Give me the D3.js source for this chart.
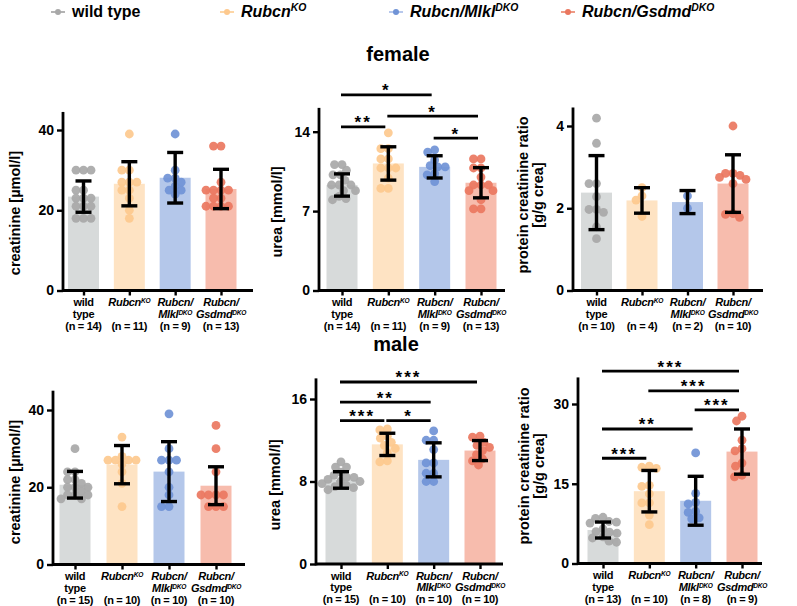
<!DOCTYPE html>
<html><head><meta charset="utf-8">
<script src="https://cdn.jsdelivr.net/npm/d3@7"></script>
<style>
html,body{margin:0;padding:0;background:#fff;}
svg{display:block;font-family:"Liberation Sans",Arial,sans-serif;}
</style></head>
<body><svg id="chart" width="797" height="606"></svg>
<script>
// ---------- DATA ----------
const groups = ["wild type", "RubcnKO", "Rubcn/MlklDKO", "Rubcn/GsdmdDKO"];
const barColors = ["#d7dada", "#fee3c3", "#b4c7ea", "#f7bcad"];
const dotColors = ["#a8a8a8", "#fdc98e", "#7093d6", "#ea775f"];
const legendLine = ["#b3b3b3", "#fdd6a6", "#b7c8ec", "#ee9a85"];

// female creatinine [µmol/l]
const fCreaMean = [23.4, 26.6, 28.1, 25.3];
const fCreaSD = [3.9, 5.5, 6.3, 4.9];
const fCreaN = [14, 11, 9, 13];
const fCreaDots = [
  [30, 30, 30, 25, 25, 23, 23, 23, 21, 21, 21, 18, 18, 18],
  [39, 30, 30, 27, 27, 27, 25, 25, 23, 20, 18],
  [39, 30, 28, 28, 27, 26, 25, 25, 24],
  [36, 36, 27, 25, 25, 25, 25, 23, 23, 21, 21, 21, 21]
];
// female urea [mmol/l]
const fUreaMean = [9.3, 11.2, 10.9, 9.5];
const fUreaSD = [0.98, 1.47, 0.98, 1.33];
const fUreaN = [14, 11, 9, 13];
const fUreaDots = [
  [11.1, 11.1, 10.6, 10.2, 10.2, 9.7, 9.3, 9.3, 9.3, 8.8, 8.8, 8.3, 8.1, 8.0],
  [13.9, 12.5, 12.5, 11.6, 11.6, 10.8, 10.8, 10.8, 9.9, 9.0, 9.0],
  [12.4, 12.2, 11.5, 11.0, 10.9, 10.9, 10.3, 10.2, 9.6],
  [11.6, 11.6, 10.8, 10.8, 10.0, 9.3, 9.3, 9.3, 8.8, 8.8, 8.0, 7.2, 7.2]
];
const fUreaSig = [[0, 2, 17.24, "*"], [1, 3, 15.38, "*"], [0, 1, 14.43, "**"], [2, 3, 13.44, "*"]];
// female protein creatinine ratio [g/g crea]
const fProtMean = [2.38, 2.19, 2.15, 2.6];
const fProtSD = [0.9, 0.31, 0.28, 0.7];
const fProtN = [10, 4, 2, 10];
const fProtDots = [
  [4.19, 3.58, 2.6, 2.6, 2.28, 1.97, 1.97, 1.9, 1.55, 1.26],
  [2.5, 2.3, 2.2, 1.8],
  [2.3, 2.0],
  [4.0, 2.85, 2.85, 2.8, 2.75, 2.7, 2.6, 1.87, 1.85, 1.78]
];
// male creatinine [µmol/l]
const mCreaMean = [20.65, 25.85, 24.05, 20.4];
const mCreaSD = [3.45, 4.95, 7.75, 4.9];
const mCreaN = [15, 10, 10, 10];
const mCreaDots = [
  [30, 24, 24, 22, 22, 21, 20, 20, 20, 19, 18, 18, 18, 17, 17],
  [33, 28, 27, 27, 27, 27, 26, 24, 21, 15],
  [39, 30, 27, 27, 27, 24, 20, 18, 15, 15],
  [36, 30, 24, 18, 18, 18, 18, 15, 15, 15]
];
// male urea [mmol/l]
const mUreaMean = [8.15, 11.6, 10.1, 11.0];
const mUreaSD = [0.8, 1.08, 1.65, 0.97];
const mUreaN = [15, 10, 10, 10];
const mUreaDots = [
  [9.9, 9.4, 9.4, 8.9, 8.6, 8.4, 8.4, 8.2, 8.0, 8.0, 7.8, 7.6, 7.5, 7.4, 7.2],
  [13.1, 13.0, 12.4, 12.2, 11.8, 11.5, 11.2, 10.8, 10.0, 9.9],
  [12.9, 12.0, 12.0, 11.1, 9.8, 9.8, 8.8, 8.8, 8.0, 8.0],
  [12.4, 12.3, 11.8, 11.5, 11.3, 11.0, 10.6, 10.2, 10.0, 9.6]
];
const mUreaSig = [[0, 3, 17.65, "***"], [0, 2, 15.7, "**"], [0, 1, 13.9, "***"], [1, 2, 13.9, "*"]];
// male protein creatinine ratio [g/g crea]
const mProtMean = [6.3, 13.6, 11.8, 21.05];
const mProtSD = [1.5, 3.9, 4.6, 4.25];
const mProtN = [13, 10, 8, 9];
const mProtDots = [
  [8.7, 8.5, 7.9, 7.8, 7.6, 6.5, 6.0, 5.9, 5.7, 5.0, 4.8, 4.2, 4.0],
  [18.3, 18.1, 17.9, 14.7, 14.5, 13.1, 11.4, 11.4, 9.1, 7.3],
  [20.8, 13.2, 11.5, 11.2, 9.8, 9.6, 8.6, 8.4],
  [27.7, 26.8, 23.2, 21.6, 21.2, 18.9, 18.3, 16.6, 16.3]
];
const mProtSig = [[0, 3, 36.2, "***"], [1, 3, 32.45, "***"], [2, 3, 28.9, "***"], [0, 2, 25.3, "**"], [0, 1, 19.8, "***"]];

const yLabels = {
  crea: ["creatinine [µmol/l]"],
  urea: ["urea [mmol/l]"],
  prot: ["protein creatinine ratio", "[g/g crea]"]
};

// ---------- LAYOUT ----------
const panels = [
  {mean: fCreaMean, sd: fCreaSD, n: fCreaN, dots: fCreaDots, sig: [], ticks: [0, 20, 40], dmax: 44.5,
   ax: 63, y0: 290.5, yRef: 130, vRef: 40, c0: 83.5, c3: 221, xEnd: 253, lab: yLabels.crea, labX: 15, labY: 213},
  {mean: fUreaMean, sd: fUreaSD, n: fUreaN, dots: fUreaDots, sig: fUreaSig, ticks: [0, 7, 14], dmax: 16.1,
   ax: 319, y0: 290.5, yRef: 131.7, vRef: 14, c0: 342, c3: 481, xEnd: 505, lab: yLabels.urea, labX: 277, labY: 212},
  {mean: fProtMean, sd: fProtSD, n: fProtN, dots: fProtDots, sig: [], ticks: [0, 2, 4], dmax: 4.45,
   ax: 573, y0: 290.5, yRef: 126, vRef: 4, c0: 596.5, c3: 733, xEnd: 763, lab: yLabels.prot, labX: 530, labY: 195},
  {mean: mCreaMean, sd: mCreaSD, n: mCreaN, dots: mCreaDots, sig: [], ticks: [0, 20, 40], dmax: 45,
   ax: 53, y0: 564.5, yRef: 410, vRef: 40, c0: 75, c3: 216, xEnd: 245, lab: yLabels.crea, labX: 15, labY: 482},
  {mean: mUreaMean, sd: mUreaSD, n: mUreaN, dots: mUreaDots, sig: mUreaSig, ticks: [0, 8, 16], dmax: 18,
   ax: 316, y0: 564, yRef: 399, vRef: 16, c0: 341, c3: 480, xEnd: 503, lab: yLabels.urea, labX: 275, labY: 485},
  {mean: mProtMean, sd: mProtSD, n: mProtN, dots: mProtDots, sig: mProtSig, ticks: [0, 15, 30], dmax: 35,
   ax: 578, y0: 563.5, yRef: 404, vRef: 30, c0: 603, c3: 742, xEnd: 762, lab: yLabels.prot, labX: 531, labY: 466}
];

const svg = d3.select("#chart");
svg.append("rect").attr("width", 797).attr("height", 606).attr("fill", "#fff");

// rich-text helper: parts = [{t, it, sup}] (superscript always last)
function richLine(sel, parts, fs, supScale, supRaise) {
  parts.forEach(p => {
    sel.append("tspan").text(p.t).attr("font-style", p.it ? "italic" : "normal");
    if (p.sup) {
      sel.append("tspan").text(p.sup).attr("font-style", "italic")
        .attr("font-size", fs * supScale).attr("dy", -fs * supRaise);
    }
  });
}
function groupLines(i, n) {
  const nl = [{t: "(n = " + n + ")"}];
  if (i === 0) return [[{t: "wild"}], [{t: "type"}], nl];
  if (i === 1) return [[{t: "Rubcn", it: true, sup: "KO"}], [], nl];
  if (i === 2) return [[{t: "Rubcn/", it: true}], [{t: "Mlkl", it: true, sup: "DKO"}], nl];
  return [[{t: "Rubcn/", it: true}], [{t: "Gsdmd", it: true, sup: "DKO"}], nl];
}

function swarm(vals, y, r) {
  const pts = vals.map(v => ({v, y: y(v)})).sort((a, b) => a.y - b.y);
  const placed = [];
  const minD2 = (2 * r * 0.82) ** 2;
  for (const p of pts) {
    let off = 0;
    for (let k = 0; k < 400; k++) {
      const o = (k % 2 === 0 ? 1 : -1) * Math.ceil(k / 2) * 0.5;
      if (placed.every(q => (q.dx - o) ** 2 + (q.y - p.y) ** 2 >= minD2)) { off = o; break; }
    }
    p.dx = off; placed.push(p);
  }
  return pts;
}

panels.forEach(P => {
  const g = svg.append("g");
  const ppu = (P.y0 - P.yRef) / P.vRef;
  const y = d3.scaleLinear().domain([0, P.dmax]).range([P.y0, P.y0 - P.dmax * ppu]);
  const x = d3.scalePoint().domain(groups).range([P.c0, P.c3]);
  const bw = 31;

  // bars
  g.selectAll("rect.bar").data(P.mean).join("rect")
    .attr("x", (d, i) => x(groups[i]) - bw / 2).attr("width", bw)
    .attr("y", d => y(d)).attr("height", d => y(0) - y(d))
    .attr("fill", (d, i) => barColors[i]);

  // dots
  P.dots.forEach((vals, i) => {
    const pts = swarm(vals, y, 4.4);
    g.selectAll(null).data(pts).join("circle")
      .attr("cx", d => x(groups[i]) + d.dx).attr("cy", d => d.y).attr("r", 4.4)
      .attr("fill", dotColors[i]).attr("fill-opacity", 0.92);
  });

  // error bars
  P.mean.forEach((m, i) => {
    const cx = x(groups[i]), lo = y(m - P.sd[i]), hi = y(m + P.sd[i]);
    const eg = g.append("g").attr("stroke", "#000").attr("stroke-width", 3.4).attr("fill", "none");
    eg.append("line").attr("x1", cx).attr("x2", cx).attr("y1", lo).attr("y2", hi);
    eg.append("line").attr("x1", cx - 8).attr("x2", cx + 8).attr("y1", lo).attr("y2", lo);
    eg.append("line").attr("x1", cx - 8).attr("x2", cx + 8).attr("y1", hi).attr("y2", hi);
  });

  // y axis
  const ya = g.append("g").attr("transform", `translate(${P.ax},0)`)
    .call(d3.axisLeft(y).tickValues(P.ticks).tickFormat(d3.format("d"))
      .tickSize(6).tickPadding(3).tickSizeOuter(0));
  ya.select(".domain").attr("stroke-width", 2.8).attr("d", `M0,${P.y0 + 1.4}V${y(P.dmax)}`);
  ya.selectAll(".tick line").attr("stroke-width", 2.4);
  ya.selectAll(".tick text").attr("font-size", 14).attr("font-weight", "bold")
    .attr("font-family", "Liberation Sans, Arial, sans-serif").attr("fill", "#000");

  // x axis
  const xa = g.append("g").attr("transform", `translate(0,${P.y0})`)
    .call(d3.axisBottom(x).tickSize(5).tickFormat(""));
  xa.select(".domain").attr("stroke-width", 2.8).attr("d", `M${P.ax},0H${P.xEnd}`);
  xa.selectAll(".tick line").attr("stroke-width", 2.4);

  // category labels
  groups.forEach((gname, i) => {
    const lines = groupLines(i, P.n[i]);
    lines.forEach((parts, li) => {
      if (!parts.length) return;
      const t = g.append("text").attr("x", x(gname)).attr("y", P.y0 + 15.5 + li * 11.8)
        .attr("text-anchor", "middle").attr("font-size", 11).attr("font-weight", "bold")
        .attr("letter-spacing", -0.3);
      richLine(t, parts, 11, 0.6, 0.3);
    });
  });

  // y label
  const lab = g.append("text").attr("transform", `translate(${P.labX},${P.labY}) rotate(-90)`)
    .attr("text-anchor", "middle").attr("font-size", 14.5).attr("font-weight", "bold");
  P.lab.forEach((s, k) => {
    lab.append("tspan").attr("x", 0).attr("dy", k === 0 ? (P.lab.length > 1 ? -2 : 5) : 15).text(s);
  });

  // significance brackets
  P.sig.forEach(([a, b, v, s]) => {
    const x1 = x(groups[a]) - 1, x2 = x(groups[b]) - 3, yy = y(v);
    g.append("line").attr("x1", x1).attr("x2", x2).attr("y1", yy).attr("y2", yy)
      .attr("stroke", "#000").attr("stroke-width", 2.8);
    g.append("text").attr("x", (x1 + x2) / 2).attr("y", yy + 1.5).attr("text-anchor", "middle")
      .attr("font-size", 17).attr("font-weight", "bold").attr("letter-spacing", 2).text(s);
  });
});

// titles
svg.append("text").attr("x", 398).attr("y", 61).attr("text-anchor", "middle")
  .attr("font-size", 20).attr("font-weight", "bold").text("female");
svg.append("text").attr("x", 396).attr("y", 351).attr("text-anchor", "middle")
  .attr("font-size", 20).attr("font-weight", "bold").text("male");

// legend
const legendX = [58, 227, 396, 568];
const legendParts = [
  [{t: "wild type"}],
  [{t: "Rubcn", it: true, sup: "KO"}],
  [{t: "Rubcn/Mlkl", it: true, sup: "DKO"}],
  [{t: "Rubcn/Gsdmd", it: true, sup: "DKO"}]
];
groups.forEach((gname, i) => {
  const lg = svg.append("g");
  lg.append("line").attr("x1", legendX[i] - 7).attr("x2", legendX[i] + 7).attr("y1", 12).attr("y2", 12)
    .attr("stroke", legendLine[i]).attr("stroke-width", 2);
  lg.append("circle").attr("cx", legendX[i]).attr("cy", 12).attr("r", 3).attr("fill", dotColors[i]);
  const t = lg.append("text").attr("x", legendX[i] + 14).attr("y", 17)
    .attr("font-size", 16).attr("font-weight", "bold");
  richLine(t, legendParts[i], 16, 0.65, 0.38);
});
</script></body></html>
